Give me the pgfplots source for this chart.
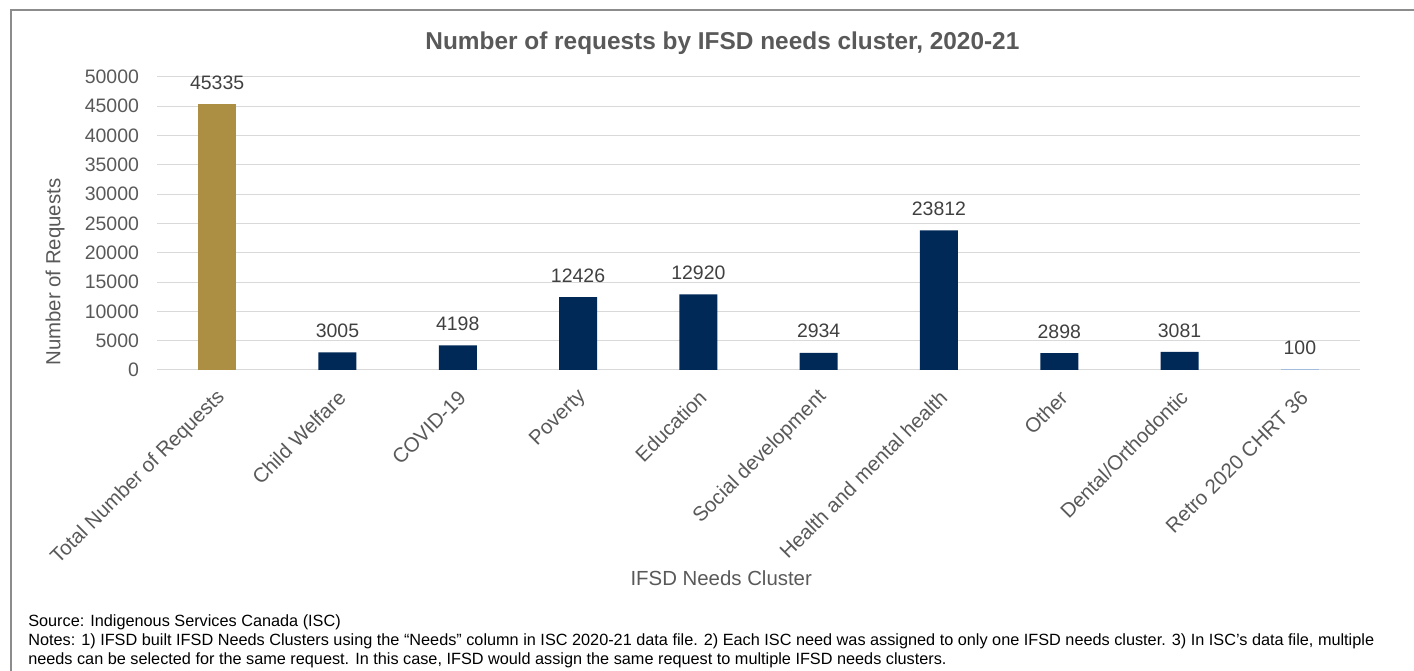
\documentclass[border=0pt]{standalone}
\usepackage{pgfplots}
\pgfplotsset{compat=1.18}
\usepackage{fontspec}
\setmainfont{Liberation Sans}
\definecolor{gold}{HTML}{AD8F43}
\definecolor{navy}{HTML}{002957}
\definecolor{lblue}{HTML}{A3BEDD}
\definecolor{txt}{HTML}{595959}
\definecolor{txtd}{HTML}{404040}
\definecolor{gridc}{HTML}{D9D9D9}
\definecolor{framec}{HTML}{8C8C8C}
\begin{document}
\begin{tikzpicture}
\useasboundingbox (0pt,0pt) rectangle (1060.5pt,503.25pt);
\draw[framec, line width=1.5pt] (8.25pt,-2pt) -- (8.25pt,495.75pt) -- (1062pt,495.75pt);
\begin{axis}[
  at={(117.75pt,225.75pt)}, anchor=south west,
  width=902.25pt, height=219.75pt, scale only axis,
  xmin=-0.5, xmax=9.5, ymin=0, ymax=50000,
  ytick={0,5000,...,50000},
  scaled y ticks=false,
  xtick={0,...,9},
  xticklabels={Total Number of Requests, Child Welfare, COVID-19, Poverty, Education, Social development, Health and mental health, Other, Dental/Orthodontic, Retro 2020 CHRT 36},
  ymajorgrids, grid style={draw=gridc, line width=0.75pt},
  axis line style={draw=none},
  major tick length=0pt,
  yticklabel style={font=\fontsize{14.6}{17}\selectfont, text=txt, xshift=-10pt},
  xticklabel style={font=\fontsize{15.3}{18}\selectfont, text=txt, inner sep=0pt, xshift=3.5pt, yshift=-18pt, rotate=45, anchor=east},
  /pgf/number format/1000 sep={},
  /pgf/number format/assume math mode=true,
  ybar, bar width=28.5pt, bar shift=0pt,
  nodes near coords,
  nodes near coords style={font=\fontsize{14.6}{17}\selectfont, text=txtd, yshift=7.5pt},
  title={Number of requests by IFSD needs cluster, 2020-21},
  title style={at={(axis description cs:0.470,1.088)}, anchor=center, font=\bfseries\fontsize{18.3}{22}\selectfont, text=txt},
  ylabel={Number of Requests},
  ylabel style={at={(axis description cs:-0.0848,0.334)}, anchor=center, font=\fontsize{15.3}{18}\selectfont, text=txt},
  xlabel={IFSD Needs Cluster},
  xlabel style={at={(axis description cs:0.469,-0.71)}, anchor=center, font=\fontsize{15.3}{18}\selectfont, text=txt},
  clip=false,
]
\addplot[fill=gold, draw=none] coordinates {(0,45335)};
\addplot[fill=navy, draw=none] coordinates {(1,3005) (2,4198) (3,12426) (4,12920) (5,2934) (6,23812) (7,2898) (8,3081)};
\addplot[fill=lblue, draw=none] coordinates {(9,100)};
\end{axis}
\node[anchor=north west, inner sep=0pt, align=left, font=\fontsize{12.2}{14.25}\selectfont, text=black] at (21pt,42.5pt) {Source: Indigenous Services Canada (ISC)\\
Notes: 1) IFSD built IFSD Needs Clusters using the “Needs” column in ISC 2020-21 data file. 2) Each ISC need was assigned to only one IFSD needs cluster. 3) In ISC’s data file, multiple\\
needs can be selected for the same request. In this case, IFSD would assign the same request to multiple IFSD needs clusters.};
\end{tikzpicture}
\end{document}
